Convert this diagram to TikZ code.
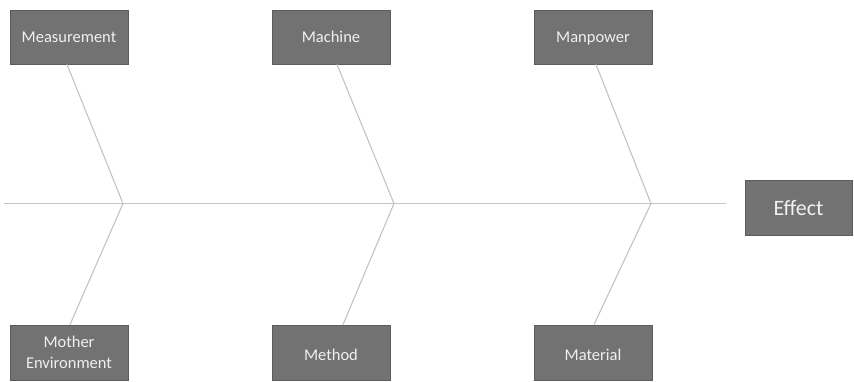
\documentclass[tikz,border=0pt]{standalone}
\usepackage{fontspec}
\setmainfont{Carlito}
\usetikzlibrary{calc}
\begin{document}
\begin{tikzpicture}[x=1pt,y=-1pt,
  cause/.style={draw=boxedge,fill=boxfill,text=boxtext,line width=0.8pt,
    font=\fontsize{16.5}{21}\selectfont,align=center,inner sep=0pt},
  upper/.style={text height=14pt,text depth=2pt},
  lower/.style={text height=16.5pt,text depth=1.5pt},
  bone/.style={draw=bonecol,line width=1.1pt}]
\definecolor{boxfill}{HTML}{727272}
\definecolor{boxedge}{HTML}{5C5C5C}
\definecolor{boxtext}{HTML}{F0F0F0}
\definecolor{bonecol}{HTML}{C4C4C4}
\useasboundingbox (0,0) rectangle (854,382);
\fill[white] (0,0) rectangle (854,382);

% category boxes
\node[cause,upper,minimum width=118pt,minimum height=54pt] (meas) at (69,37) {Measurement};
\node[cause,upper,minimum width=118pt,minimum height=54pt] (mach) at (331,37) {Machine};
\node[cause,upper,minimum width=118pt,minimum height=54pt] (manp) at (593,37) {Manpower};
\node[cause,minimum width=118pt,minimum height=55pt] (menv) at (69,352.5) {Mother\\[0pt]Environment};
\node[cause,lower,minimum width=118pt,minimum height=55pt] (meth) at (331,352.5) {Method};
\node[cause,lower,minimum width=118pt,minimum height=55pt] (matl) at (593,352.5) {Material};
\node[cause,minimum width=107pt,minimum height=55pt,font=\fontsize{22}{24}\selectfont,
  text height=18pt,text depth=3pt] (eff) at (798.5,207.5) {Effect};

% spine and junctions
\coordinate (tail) at (4,203.5);
\coordinate (head) at (726,203.5);
\coordinate (j1) at (123,203.5);
\coordinate (j2) at (394,203.5);
\coordinate (j3) at (651,203.5);
\draw[bone] (tail) -- (head);

% ribs
\draw[bone] ($(meas.south)+(-2,0)$) -- (j1) -- ($(menv.north)+(1,0)$);
\draw[bone] ($(mach.south)+(6,0)$) -- (j2) -- ($(meth.north)+(12,0)$);
\draw[bone] ($(manp.south)+(3,0)$) -- (j3) -- ($(matl.north)+(1,0)$);
\end{tikzpicture}
\end{document}
